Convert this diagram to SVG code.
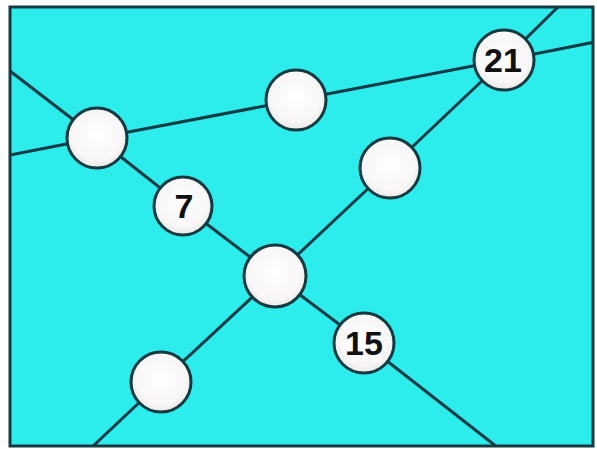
<svg xmlns="http://www.w3.org/2000/svg" width="597" height="449" viewBox="0 0 597 449">
<defs>
<radialGradient id="g" cx="0.5" cy="0.45" r="0.6">
<stop offset="0" stop-color="#ffffff"/>
<stop offset="0.7" stop-color="#f8f6f6"/>
<stop offset="1" stop-color="#e4e0e0"/>
</radialGradient>
<clipPath id="c"><rect x="10" y="7" width="583" height="439"/></clipPath>
</defs>
<style>
.ln{fill:none;stroke:#0f3c46;stroke-width:3;stroke-linejoin:round}
.nd{fill:url(#g);stroke:#123a40;stroke-width:3}
.t{font-family:"Liberation Sans",Arial,sans-serif;font-weight:bold;font-size:34px;fill:#111;text-anchor:middle}
</style>
<rect x="0" y="0" width="597" height="449" fill="#ffffff"/>
<rect x="10" y="7" width="583" height="439" fill="#2decec"/>
<g id="connectors" clip-path="url(#c)">
<polyline class="ln" points="10,71 97,138 183,206 275,276 364,343 497,447"/>
<polyline class="ln" points="10,155 97,138 296,100 504,60 595,42"/>
<polyline class="ln" points="92,447 161,382 275,276 390,168 504,60 559,6"/>
</g>
<g id="n1"><circle class="nd" cx="97" cy="138" r="30"/></g>
<g id="n2"><circle class="nd" cx="296" cy="100" r="30"/></g>
<g id="n3"><circle class="nd" cx="504" cy="60" r="30"/><text class="t" x="503" y="72">21</text></g>
<g id="n4"><circle class="nd" cx="183" cy="206" r="29"/><text class="t" x="184" y="218">7</text></g>
<g id="n5"><circle class="nd" cx="390" cy="168" r="30"/></g>
<g id="n6"><circle class="nd" cx="275" cy="276" r="31"/></g>
<g id="n7"><circle class="nd" cx="364" cy="343" r="30"/><text class="t" x="364" y="355">15</text></g>
<g id="n8"><circle class="nd" cx="161" cy="382" r="30"/></g>
<rect x="10" y="7" width="583" height="439" fill="none" stroke="#163a40" stroke-width="3"/>
</svg>
